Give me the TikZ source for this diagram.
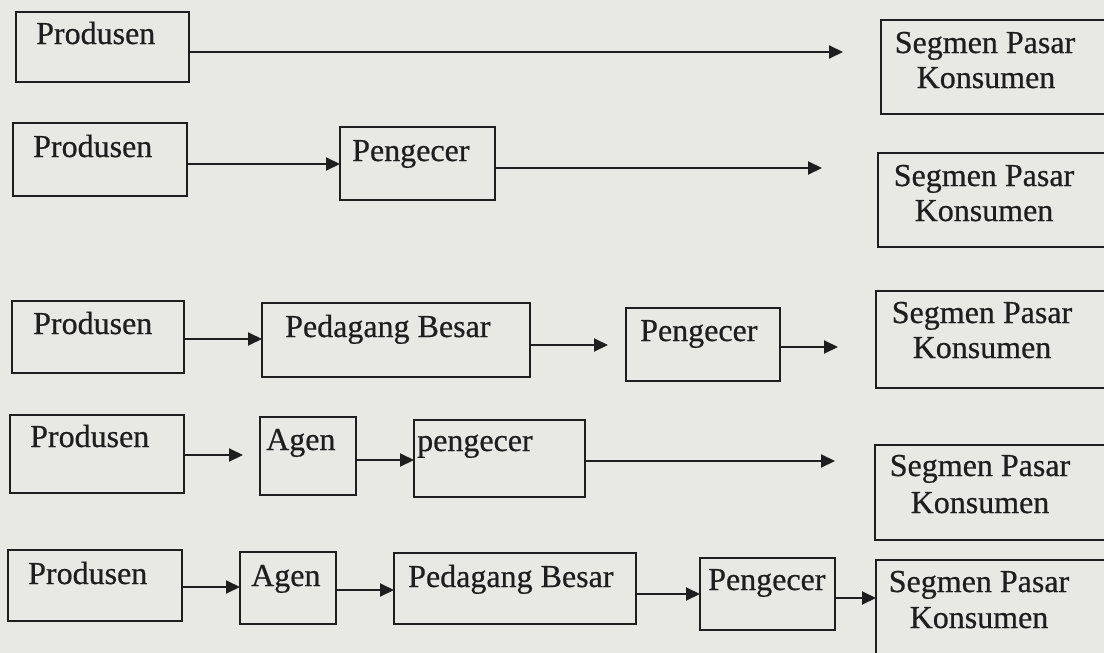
\documentclass[tikz,border=0pt]{standalone}
\usepackage{fontspec}
\setmainfont{Liberation Serif}
\newfontfamily\scanfont{Liberation Serif}[FakeBold=0.6]
\usetikzlibrary{arrows.meta,calc}
\definecolor{bgcol}{RGB}{232,232,229}
\definecolor{inkcol}{RGB}{30,30,30}
\newcommand\mybox[5]{\node[box,anchor=north west,minimum width=#4pt-#2pt,minimum height=#5pt-#3pt] (#1) at (#2,#3) {};}
\tikzset{
  box/.style={draw=inkcol,line width=2pt,inner sep=0pt,outer sep=0pt},
  txt/.style={text=inkcol,font=\scanfont\fontsize{32}{35}\selectfont,inner sep=0pt},
  arr/.style={draw=inkcol,line width=2pt,-{Triangle[length=14pt,width=13pt]}}
}
\begin{document}
\begin{tikzpicture}[x=1pt,y=-1pt]
\fill[bgcol] (0,0) rectangle (1104,653);
\useasboundingbox (0,0) rectangle (1104,653);
\clip (0,0) rectangle (1104,653);
% Row 1
\mybox{p1}{16}{12}{189}{82}
\node[txt,anchor=base west] (p1t) at (36,44) {Produsen};
\mybox{s1}{881}{20}{1112}{114}
\node[txt,anchor=base] (s1a) at (985,53) {Segmen Pasar};
\node[txt,anchor=base] (s1b) at (986,88) {Konsumen};
\draw[arr,shorten >=38pt] ($(p1.east)+(0,5)$) -- ($(s1.west|-p1.east)+(0,5)$);
% Row 2
\mybox{p2}{13}{123}{187}{196}
\node[txt,anchor=base west] (p2t) at (33,157) {Produsen};
\mybox{g2}{340}{127}{495}{200}
\node[txt,anchor=base west] (g2t) at (352,161) {Pengecer};
\mybox{s2}{878}{153}{1112}{247}
\node[txt,anchor=base] (s2a) at (984,186) {Segmen Pasar};
\node[txt,anchor=base] (s2b) at (984,221) {Konsumen};
\draw[arr] ($(p2.east)+(0,4.5)$) -- ($(g2.west|-p2.east)+(0,4.5)$);
\draw[arr,shorten >=56pt] ($(g2.east)+(0,4.5)$) -- ($(s2.west|-g2.east)+(0,4.5)$);
% Row 3
\mybox{p3}{12}{301}{184}{373}
\node[txt,anchor=base west] (p3t) at (33,334) {Produsen};
\mybox{b3}{262}{303}{530}{377}
\node[txt,anchor=base west] (b3t) at (285,337) {Pedagang Besar};
\mybox{g3}{626}{308}{780}{381}
\node[txt,anchor=base west] (g3t) at (640,341) {Pengecer};
\mybox{s3}{876}{291}{1112}{388}
\node[txt,anchor=base] (s3a) at (982,323) {Segmen Pasar};
\node[txt,anchor=base] (s3b) at (982,358) {Konsumen};
\draw[arr] ($(p3.east)+(0,2)$) -- ($(b3.west|-p3.east)+(0,2)$);
\draw[arr,shorten >=18pt] ($(b3.east)+(0,5)$) -- ($(g3.west|-b3.east)+(0,5)$);
\draw[arr,shorten >=38pt] ($(g3.east)+(0,2.5)$) -- ($(s3.west|-g3.east)+(0,2.5)$);
% Row 4
\mybox{p4}{10}{415}{184}{493}
\node[txt,anchor=base west] (p4t) at (30,447) {Produsen};
\mybox{a4}{260}{417}{356}{495}
\node[txt,anchor=base west] (a4t) at (266,450) {Agen};
\mybox{e4}{414}{420}{585}{497}
\node[txt,anchor=base west] (e4t) at (417,451) {pengecer};
\mybox{s4}{875}{445}{1112}{540}
\node[txt,anchor=base] (s4a) at (980,476) {Segmen Pasar};
\node[txt,anchor=base] (s4b) at (980,513) {Konsumen};
\draw[arr,shorten >=17pt] ($(p4.east)+(0,1)$) -- ($(a4.west|-p4.east)+(0,1)$);
\draw[arr] ($(a4.east)+(0,4)$) -- ($(e4.west|-a4.east)+(0,4)$);
\draw[arr,shorten >=40pt] ($(e4.east)+(0,2.5)$) -- ($(s4.west|-e4.east)+(0,2.5)$);
% Row 5
\mybox{p5}{8}{550}{182}{621}
\node[txt,anchor=base west] (p5t) at (28,584) {Produsen};
\mybox{a5}{240}{552}{336}{624}
\node[txt,anchor=base west] (a5t) at (251,586) {Agen};
\mybox{b5}{394}{553}{636}{624}
\node[txt,anchor=base west] (b5t) at (408,587) {Pedagang Besar};
\mybox{g5}{700}{558}{835}{630}
\node[txt,anchor=base west] (g5t) at (708,590) {Pengecer};
\mybox{s5}{876}{560}{1112}{662}
\node[txt,anchor=base] (s5a) at (979,592) {Segmen Pasar};
\node[txt,anchor=base] (s5b) at (979,628) {Konsumen};
\draw[arr] ($(p5.east)+(0,1.5)$) -- ($(a5.west|-p5.east)+(0,1.5)$);
\draw[arr] ($(a5.east)+(0,2)$) -- ($(b5.west|-a5.east)+(0,2)$);
\draw[arr] ($(b5.east)+(0,5.5)$) -- ($(g5.west|-b5.east)+(0,5.5)$);
\draw[arr] ($(g5.east)+(0,4)$) -- ($(s5.west|-g5.east)+(0,4)$);
\end{tikzpicture}
\end{document}
